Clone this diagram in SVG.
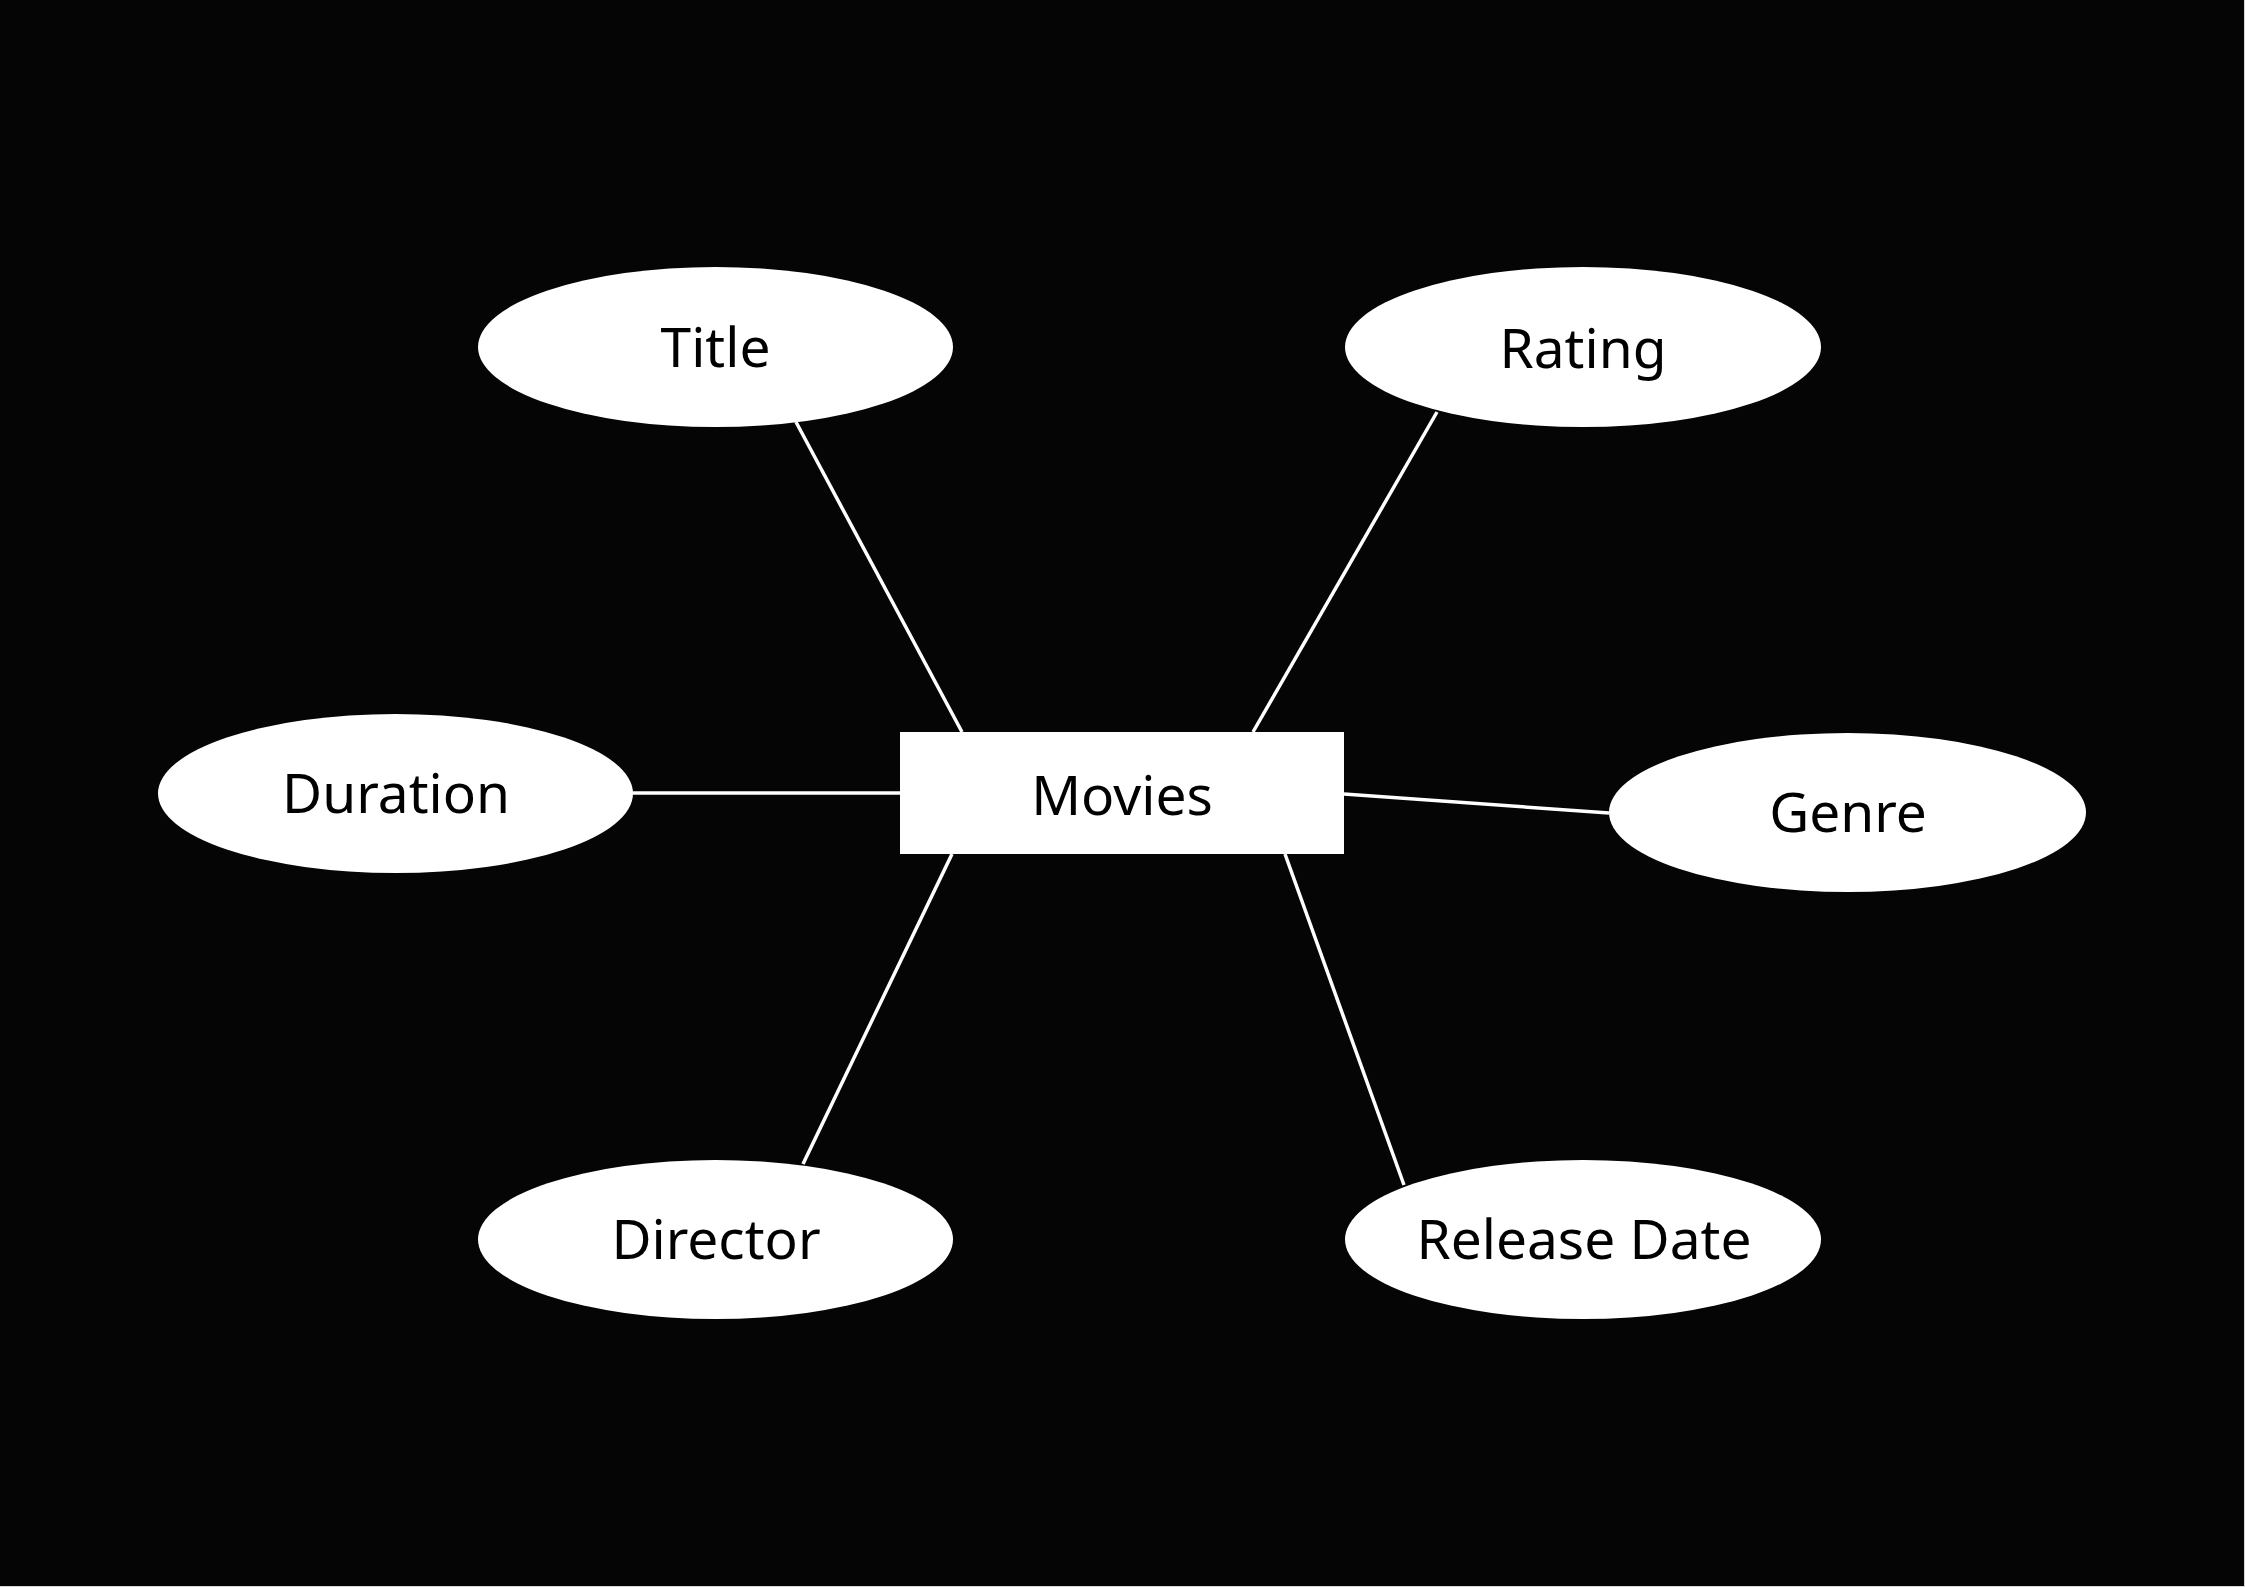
<svg xmlns="http://www.w3.org/2000/svg" width="2245" height="1587" viewBox="0 0 2245 1587">
<style>
.attr{fill:#ffffff;}
.ent{fill:#ffffff;}
.lbl{font-family:"Noto Sans","Open Sans","Liberation Sans",sans-serif;font-size:55px;fill:#000000;text-anchor:middle;}
.conn line{stroke:#ffffff;stroke-width:3.5;}
</style>
<rect x="0" y="0" width="2245" height="1587" fill="#d8d8d8"/>
<rect x="0" y="0" width="2244" height="1586" fill="#050505"/>
<g id="connectors" class="conn">
<line x1="796" y1="422" x2="962" y2="732"/>
<line x1="1437" y1="412" x2="1253" y2="732"/>
<line x1="633" y1="793" x2="900" y2="793"/>
<line x1="1344" y1="794" x2="1609" y2="813"/>
<line x1="952" y1="854" x2="803" y2="1164"/>
<line x1="1285" y1="854" x2="1404" y2="1185"/>
</g>
<g id="movies">
<rect class="ent" x="900" y="732" width="444" height="122"/>
<text class="lbl" x="1122" y="815">Movies</text>
</g>
<g id="title">
<ellipse class="attr" cx="715.5" cy="347" rx="237.5" ry="80"/>
<text class="lbl" x="715.5" y="367">Title</text>
</g>
<g id="rating">
<ellipse class="attr" cx="1583" cy="347" rx="238" ry="80"/>
<text class="lbl" x="1583" y="368">Rating</text>
</g>
<g id="duration">
<ellipse class="attr" cx="395.5" cy="793.5" rx="237.5" ry="79.5"/>
<text class="lbl" x="396" y="813">Duration</text>
</g>
<g id="genre">
<ellipse class="attr" cx="1847.5" cy="812.5" rx="238.5" ry="79.5"/>
<text class="lbl" x="1848" y="832">Genre</text>
</g>
<g id="director">
<ellipse class="attr" cx="715.5" cy="1239.5" rx="237.5" ry="79.5"/>
<text class="lbl" x="716" y="1259">Director</text>
</g>
<g id="release-date">
<ellipse class="attr" cx="1583" cy="1239.5" rx="238" ry="79.5"/>
<text class="lbl" x="1584" y="1259">Release Date</text>
</g>
</svg>
